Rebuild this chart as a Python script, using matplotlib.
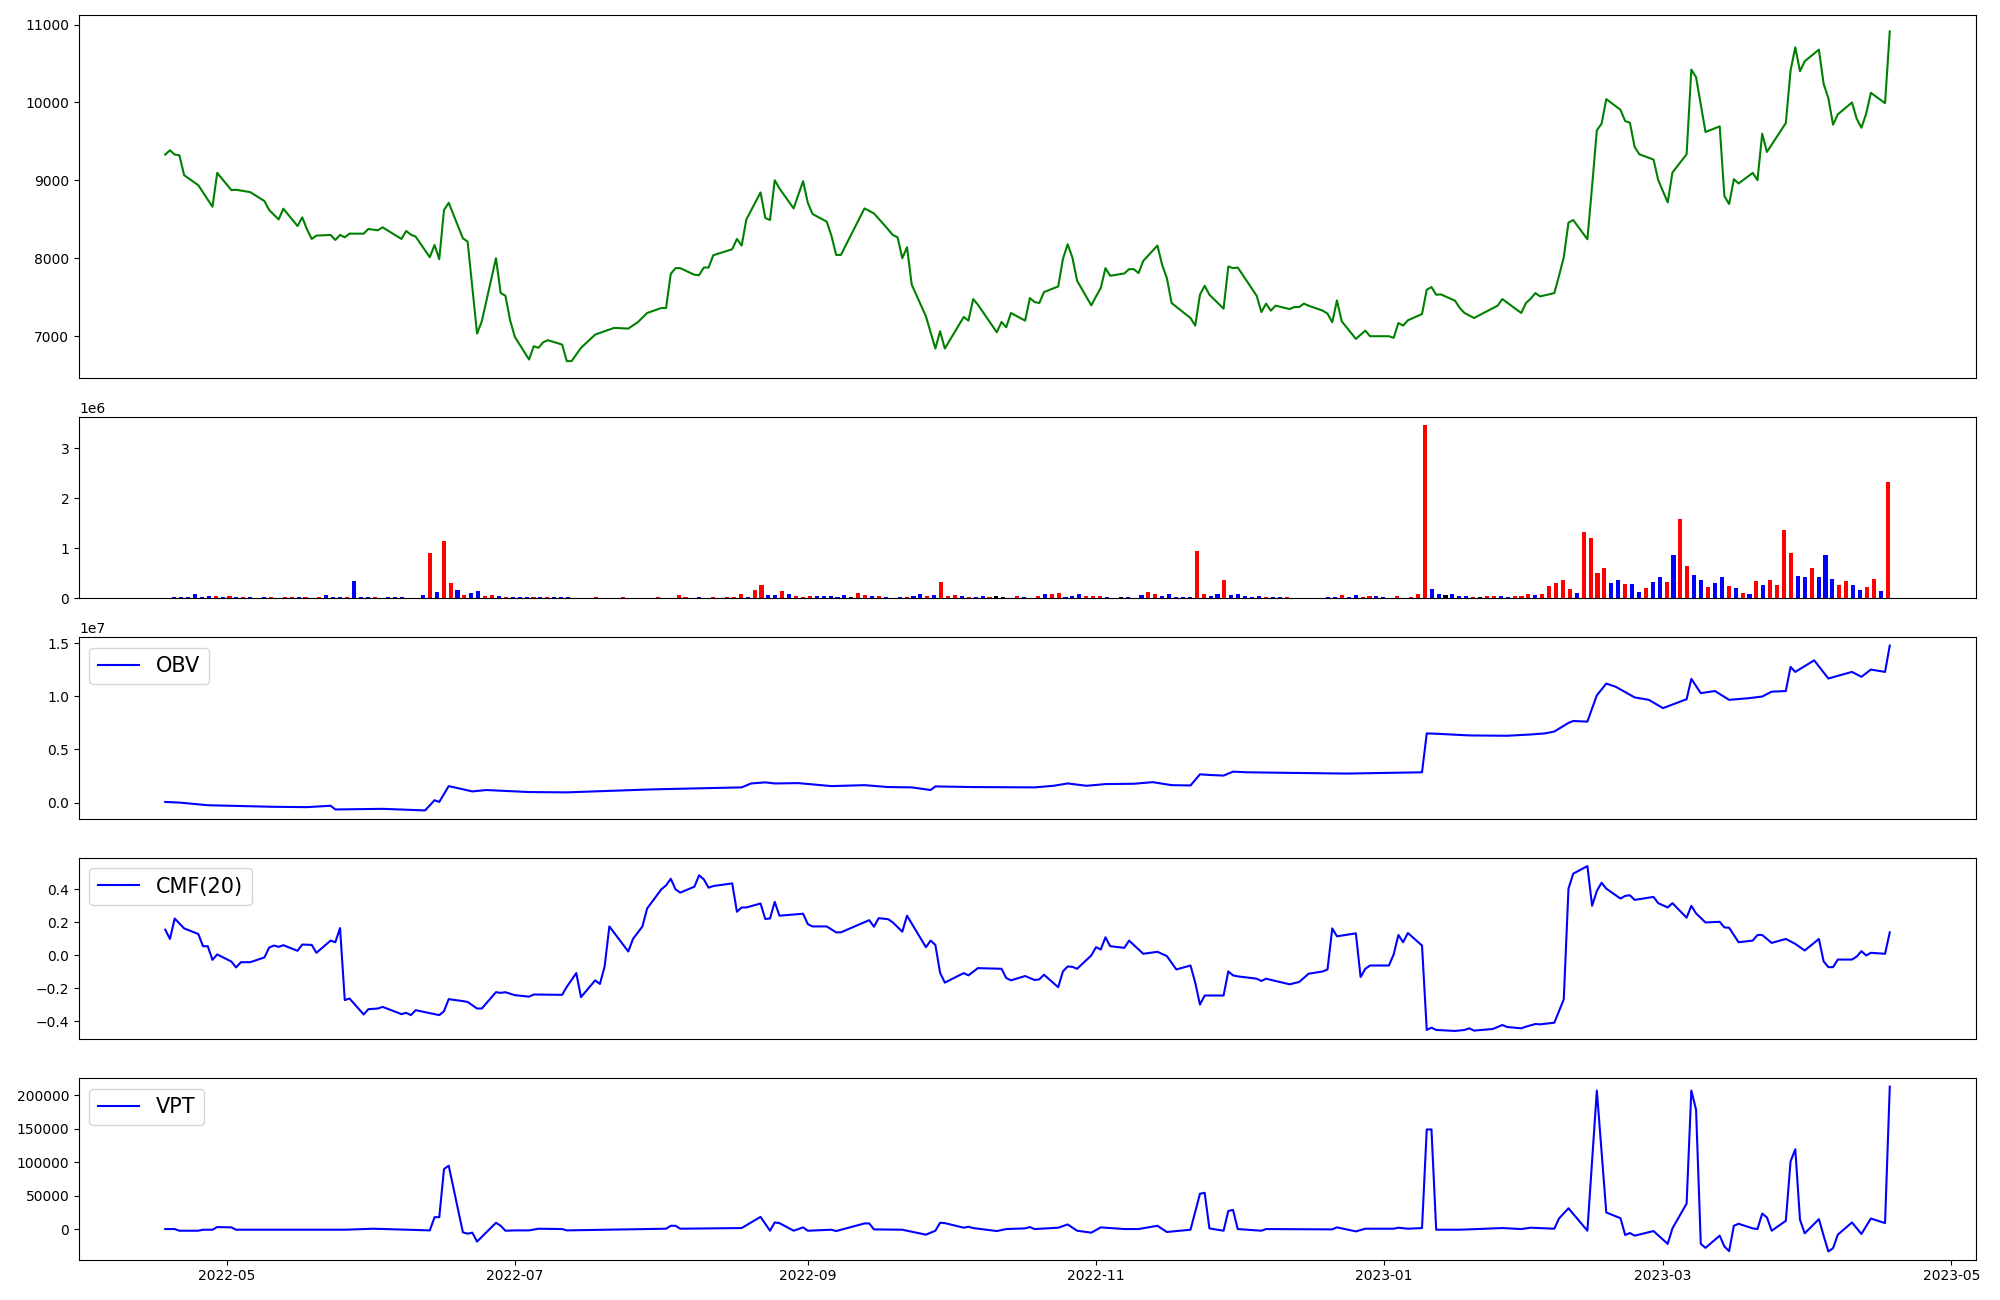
"""Price, volume and volume indicators (OBV, CMF, VPT) for one year."""

import datetime as dt

import numpy as np
import matplotlib
matplotlib.use('Agg')
import matplotlib.pyplot as plt


# Day offsets are counted from 2022-05-01.
BASE = dt.date(2022, 5, 1)

price_day = [
    -13, -12, -11, -10, -9, -6, -5, -3, -2, 1, 2, 5, 8, 9, 11, 12, 15, 16,
    17, 18, 19, 22, 23, 24, 25, 26, 29, 30, 32, 33, 37, 38, 39, 40, 43, 44,
    45, 46, 47, 50, 51, 53, 54, 57, 58, 59, 60, 61, 64, 65, 66, 67, 68, 71,
    72, 73, 75, 78, 82, 85, 87, 89, 92, 93, 94, 95, 96, 99, 100, 101, 102,
    103, 107, 108, 109, 110, 113, 114, 115, 116, 117, 120, 122, 123, 124,
    127, 128, 129, 130, 135, 137, 139, 141, 142, 143, 144, 145, 148, 150,
    151, 152, 156, 157, 158, 159, 163, 164, 165, 166, 169, 170, 171, 172,
    173, 176, 177, 178, 179, 180, 183, 184, 185, 186, 187, 190, 191, 192,
    193, 194, 197, 198, 199, 200, 204, 205, 206, 207, 208, 211, 212, 213,
    214, 218, 219, 220, 221, 222, 225, 226, 227, 228, 229, 232, 233, 234,
    235, 236, 239, 241, 242, 246, 247, 248, 249, 250, 253, 254, 255, 256,
    257, 260, 261, 262, 264, 269, 270, 274, 275, 276, 277, 278, 281, 282,
    283, 284, 285, 288, 289, 290, 291, 292, 295, 296, 297, 298, 299, 302,
    303, 305, 306, 309, 310, 311, 313, 316, 317, 318, 319, 320, 323, 324,
    325, 326, 330, 331, 332, 333, 334, 337, 338, 339, 340, 341, 344, 345,
    346, 347, 348, 351, 352,
]
price = [
    9331, 9386, 9331, 9322, 9066, 8938, 8845, 8661, 9096, 8875, 8879, 8849,
    8734, 8619, 8499, 8636, 8414, 8525, 8372, 8248, 8291, 8299, 8235, 8299,
    8269, 8316, 8316, 8376, 8359, 8397, 8248, 8350, 8303, 8278, 8013, 8171,
    7988, 8619, 8712, 8256, 8214, 7033, 7191, 8001, 7553, 7519, 7203, 6990,
    6700, 6871, 6850, 6922, 6948, 6892, 6679, 6679, 6850, 7020, 7106, 7097,
    7178, 7297, 7361, 7361, 7800, 7873, 7873, 7788, 7783, 7881, 7881, 8039,
    8116, 8248, 8163, 8499, 8845, 8517, 8491, 9002, 8896, 8640, 8990, 8713,
    8568, 8470, 8290, 8043, 8043, 8640, 8576, 8440, 8299, 8269, 8001, 8141,
    7660, 7255, 6841, 7063, 6841, 7246, 7199, 7476, 7404, 7050, 7182, 7114,
    7297, 7199, 7489, 7438, 7425, 7566, 7638, 7992, 8180, 8009, 7711, 7395,
    7510, 7617, 7873, 7775, 7805, 7860, 7860, 7809, 7966, 8163, 7915, 7745,
    7425, 7233, 7135, 7532, 7647, 7532, 7353, 7894, 7873, 7881, 7519, 7310,
    7417, 7327, 7391, 7348, 7374, 7374, 7417, 7391, 7327, 7289, 7178, 7459,
    7191, 6965, 7071, 6999, 6999, 6978, 7169, 7135, 7203, 7284, 7596, 7630,
    7532, 7536, 7455, 7361, 7297, 7233, 7391, 7476, 7297, 7425, 7481, 7553,
    7510, 7553, 7775, 8013, 8457, 8491, 8244, 8926, 9642, 9727, 10043, 9906,
    9761, 9740, 9429, 9335, 9267, 9002, 8717, 9101, 9335, 10422, 10324, 9621,
    9693, 8798, 8696, 9015, 8960, 9096, 9002, 9599, 9365, 9736, 10409, 10708,
    10401, 10529, 10678, 10239, 10055, 9714, 9847, 10000, 9791, 9676, 9855,
    10124, 9991, 10912,
]

# Volume bars, one per trading day (index order), in millions of shares.
volume = [
    0, .02, .02, .02, .09, .02, .04, .04, .02, .04,
    .02, .02, .02, 0, .02, .02, 0, .02, .02, .02,
    .02, 0, .02, .07, .02, .02, .02, .35, .02, .02,
    .02, 0, .02, .02, .02, 0, 0, .07, .90, .13,
    1.14, .31, .17, .07, .11, .15, .05, .07, .05, .02,
    .02, .02, .02, .02, .02, .02, .02, .02, .02, 0,
    0, 0, .02, 0, 0, 0, .02, 0, 0, 0,
    0, .02, 0, 0, .07, .02, 0, .02, 0, .02,
    0, .02, .02, .09, .02, .17, .27, .07, .07, .15,
    .09, .05, .02, .05, .05, .05, .05, .02, .07, .02,
    .11, .07, .05, .05, .02, 0, .02, .02, .05, .09,
    .05, .07, .33, .05, .07, .05, .02, .02, .05, .02,
    .05, .02, 0, .05, .02, 0, .05, .09, .09, .11,
    .02, .05, .09, .05, .05, .05, .02, 0, .02, .02,
    0, .07, .13, .09, .05, .09, .02, .02, .02, .94,
    .09, .05, .09, .37, .07, .09, .05, .02, .05, .02,
    .02, .02, .02, 0, 0, 0, 0, 0, .02, .02,
    .07, .02, .07, .02, .05, .05, .02, 0, .05, 0,
    .02, .09, 3.46, .19, .09, .07, .09, .05, .05, .02,
    .02, .05, .05, .05, .02, .05, .05, .09, .07, .09,
    .25, .31, .37, .19, .11, 1.32, 1.20, .51, .61, .31,
    .37, .29, .29, .13, .21, .33, .43, .33, .86, 1.58,
    .64, .47, .37, .23, .31, .43, .25, .21, .11, .09,
    .35, .27, .37, .27, 1.36, .90, .45, .43, .61, .43,
    .86, .39, .27, .35, .27, .17, .23, .39, .15, 2.32,
]
# r = close up, b = close down, k = unchanged
volume_dir = (
    'kbbbbbbrbr' 'brbkbrkrrb' 'rkrbbbrbbb' 'rkbbbkkbrb' 'rrbrbbrrbr'
    'bbbrbrbbbk' 'kkrkkkrkkk' 'krkkrrkbkr' 'krrrbrrbbr' 'brrrbbbbbk'
    'rrbrbkbrbb' 'rbrrrbrbbr' 'kkkrbkrbrr' 'bbbrrrbkkb' 'kbrrbbbbbr'
    'rbbrbbbbbr' 'bbrkkkkkbb' 'rbbrrbbkrk' 'rrrbbkbbbr' 'krrbbrrrbr'
    'rrrrbrrrrb' 'brbbrbbrbr' 'rbbrbbrbrb' 'rbrrrrbbrb' 'bbrrbbrrbr'
)

obv_day = [
    -13, -10, -4, 10, 17, 22, 23, 33, 42, 44, 45, 47, 52, 55, 64, 72, 90,
    96, 109, 111, 114, 116, 121, 128, 135, 140, 145, 149, 150, 158, 171,
    175, 178, 182, 186, 192, 196, 200, 204, 206, 208, 211, 213, 216, 226,
    237, 253, 254, 256, 263, 271, 276, 279, 281, 284, 285, 288, 290, 292,
    294, 298, 301, 304, 309, 310, 312, 315, 318, 322, 325, 327, 330, 331,
    332, 336, 339, 344, 346, 348, 351, 352,
]
obv = [  # units of 1e7
    0.006, 0.0, -0.025, -0.04, -0.043, -0.03, -0.065, -0.059, -0.074, 0.022,
    0.006, 0.155, 0.105, 0.118, 0.099, 0.096, 0.124, 0.13, 0.143, 0.18,
    0.19, 0.18, 0.183, 0.155, 0.164, 0.146, 0.143, 0.118, 0.152, 0.146,
    0.143, 0.158, 0.18, 0.158, 0.174, 0.177, 0.192, 0.164, 0.161, 0.266,
    0.26, 0.254, 0.291, 0.285, 0.279, 0.273, 0.285, 0.651, 0.648, 0.632,
    0.629, 0.641, 0.651, 0.669, 0.75, 0.768, 0.762, 1.01, 1.12, 1.09,
    0.99, 0.967, 0.889, 0.973, 1.165, 1.03, 1.05, 0.967, 0.982, 0.998,
    1.044, 1.05, 1.277, 1.23, 1.339, 1.168, 1.23, 1.184, 1.252, 1.23,
    1.478,
]

cmf_day = [
    -13, -12, -11, -9, -6, -5, -4, -3, -2, 1, 2, 3, 5, 8, 9, 10, 11, 12, 15,
    16, 18, 19, 22, 23, 24, 25, 26, 29, 30, 32, 33, 37, 38, 39, 40, 45, 46,
    47, 50, 51, 53, 54, 57, 58, 59, 61, 64, 65, 71, 72, 74, 75, 78, 79, 80,
    81, 85, 86, 88, 89, 92, 93, 94, 95, 96, 99, 100, 101, 102, 103, 107,
    108, 109, 110, 113, 114, 115, 116, 117, 122, 123, 124, 127, 129, 130,
    136, 137, 138, 140, 141, 143, 144, 148, 149, 150, 151, 152, 156, 157,
    159, 164, 165, 166, 169, 171, 172, 173, 176, 177, 178, 179, 180, 183,
    184, 185, 186, 187, 190, 191, 194, 197, 199, 201, 204, 205, 206, 207,
    211, 212, 213, 214, 218, 219, 220, 222, 225, 227, 229, 232, 233, 234,
    235, 239, 240, 241, 242, 246, 247, 248, 249, 250, 253, 254, 255, 256,
    260, 262, 263, 264, 268, 270, 271, 274, 275, 277, 278, 281, 283, 284,
    285, 288, 289, 290, 291, 292, 295, 296, 297, 298, 302, 303, 305, 306,
    309, 310, 311, 313, 316, 317, 318, 320, 323, 324, 325, 327, 330, 332,
    334, 337, 338, 339, 340, 341, 344, 345, 346, 347, 348, 351, 352,
]
cmf = [
    0.156, 0.10, 0.224, 0.164, 0.13, 0.056, 0.056, -0.027, 0.006, -0.037,
    -0.073, -0.041, -0.041, -0.012, 0.048, 0.06, 0.052, 0.062, 0.028, 0.066,
    0.064, 0.016, 0.09, 0.08, 0.166, -0.271, -0.261, -0.358, -0.326, -0.322,
    -0.312, -0.356, -0.348, -0.362, -0.332, -0.362, -0.338, -0.265, -0.277,
    -0.282, -0.322, -0.322, -0.223, -0.227, -0.223, -0.241, -0.25, -0.237,
    -0.239, -0.19, -0.107, -0.253, -0.151, -0.173, -0.067, 0.176, 0.024,
    0.10, 0.176, 0.285, 0.401, 0.425, 0.465, 0.401, 0.381, 0.417, 0.486,
    0.461, 0.411, 0.421, 0.437, 0.265, 0.291, 0.291, 0.315, 0.221, 0.224,
    0.325, 0.241, 0.253, 0.19, 0.176, 0.176, 0.14, 0.14, 0.214, 0.174,
    0.226, 0.22, 0.20, 0.144, 0.241, 0.05, 0.09, 0.064, -0.105, -0.165,
    -0.107, -0.121, -0.077, -0.081, -0.137, -0.151, -0.125, -0.149, -0.145,
    -0.117, -0.193, -0.097, -0.067, -0.069, -0.081, 0.0, 0.05, 0.036, 0.11,
    0.056, 0.046, 0.09, 0.01, 0.022, -0.004, -0.085, -0.061, -0.165, -0.298,
    -0.243, -0.243, -0.097, -0.121, -0.127, -0.141, -0.155, -0.141, -0.155,
    -0.175, -0.161, -0.111, -0.097, -0.085, 0.164, 0.116, 0.134, -0.131,
    -0.081, -0.061, -0.061, 0.006, 0.124, 0.08, 0.136, 0.06, -0.452, -0.438,
    -0.452, -0.458, -0.452, -0.442, -0.456, -0.446, -0.422, -0.434, -0.442,
    -0.432, -0.416, -0.418, -0.408, -0.267, 0.405, 0.496, 0.542, 0.301,
    0.391, 0.441, 0.405, 0.345, 0.361, 0.365, 0.337, 0.355, 0.317, 0.291,
    0.317, 0.229, 0.301, 0.255, 0.20, 0.204, 0.17, 0.168, 0.08, 0.09, 0.124,
    0.124, 0.076, 0.10, 0.07, 0.03, 0.10, -0.036, -0.071, -0.071, -0.025,
    -0.025, -0.007, 0.026, 0.0, 0.016, 0.01, 0.14,
]

vpt_day = [
    -13, -11, -10, -6, -5, -3, -2, 1, 2, 25, 31, 43, 44, 45, 46, 47, 50, 51,
    52, 53, 57, 58, 59, 61, 64, 66, 71, 72, 93, 94, 95, 96, 109, 113, 115,
    116, 117, 120, 122, 123, 128, 129, 135, 136, 137, 143, 148, 150, 151,
    152, 156, 157, 158, 163, 165, 169, 170, 171, 176, 178, 180, 183, 185,
    190, 193, 197, 199, 204, 206, 207, 208, 211, 212, 213, 214, 219, 220,
    234, 235, 239, 241, 247, 248, 250, 253, 254, 255, 256, 261, 270, 274,
    276, 281, 282, 284, 288, 290, 292, 295, 296, 297, 298, 302, 305, 306,
    309, 310, 311, 312, 313, 316, 317, 318, 319, 320, 323, 324, 325, 326,
    327, 330, 331, 332, 333, 334, 337, 338, 339, 340, 341, 344, 346, 348,
    351, 352,
]
vpt = [
    0, 0, -2500, -2500, -1000, -1000, 3000, 2500, -1000, -1000, 500, -2000,
    17750, 17750, 89700, 94700, -4900, -6900, -5400, -18700, 9400, 4900,
    -2500, -2000, -2000, 500, 0, -2000, 500, 4900, 4900, 500, 1500, 18200,
    -2500, 9900, 8900, -2500, 2500, -2500, -1000, -3000, 8400, 8400, -500,
    -1000, -8400, -2500, 9400, 8900, 2000, 3500, 1500, -3000, 0, 1000, 3000,
    0, 2000, 6900, -2500, -5400, 2500, 0, 0, 4900, -4400, -1000, 52800,
    54200, 1000, -2500, 27100, 28600, 0, -2500, 0, -500, 2500, -3500, 500,
    500, 2000, 500, 1500, 148900, 148900, -1000, -1000, 1500, 0, 2000, 500,
    15800, 31100, -2500, 207100, 24700, 16300, -8900, -5900, -9900, -3000,
    -22200, 1000, 38000, 207100, 178500, -22200, -28100, -9900, -26100,
    -33000, 4900, 7900, 1000, 0, 23200, 17300, -2500, 12300, 101100, 119300,
    13800, -6400, 14800, -9900, -33500, -28600, -8400, 9900, -7400, 15800,
    8900, 213000,
]


def to_dates(days):
    """Turn day offsets into dates."""
    return [BASE + dt.timedelta(days=d) for d in days]


def main():
    fig = plt.figure(figsize=(20, 13), dpi=100)
    gs = fig.add_gridspec(
        5, 1, height_ratios=[2, 1, 1, 1, 1],
        left=0.0395, right=0.988, top=0.9885, bottom=0.031, hspace=0.18
    )
    ax_price = fig.add_subplot(gs[0])
    ax_vol = fig.add_subplot(gs[1])
    ax_obv = fig.add_subplot(gs[2], sharex=ax_price)
    ax_cmf = fig.add_subplot(gs[3], sharex=ax_price)
    ax_vpt = fig.add_subplot(gs[4], sharex=ax_price)

    # Price
    ax_price.plot(to_dates(price_day), price, color='green', linewidth=1.5)
    ax_price.tick_params(axis='x', bottom=False, labelbottom=False)

    # Volume, one bar per trading day
    cmap = {'r': 'red', 'b': 'blue', 'k': 'black'}
    colors = [cmap[c] for c in volume_dir]
    idx = np.arange(len(volume))
    ax_vol.bar(idx, np.array(volume) * 1e6, width=0.6, color=colors)
    ax_vol.set_xticks([])

    # Indicators
    ax_obv.plot(to_dates(obv_day), np.array(obv) * 1e7, color='blue',
                linewidth=1.5, label='OBV')
    ax_cmf.plot(to_dates(cmf_day), cmf, color='blue', linewidth=1.5,
                label='CMF(20)')
    ax_vpt.plot(to_dates(vpt_day), vpt, color='blue', linewidth=1.5,
                label='VPT')
    for ax in (ax_obv, ax_cmf, ax_vpt):
        ax.legend(loc='upper left', fontsize=15)
    for ax in (ax_obv, ax_cmf):
        ax.tick_params(axis='x', bottom=False, labelbottom=False)

    fig.savefig('out.png')


if __name__ == '__main__':
    main()
